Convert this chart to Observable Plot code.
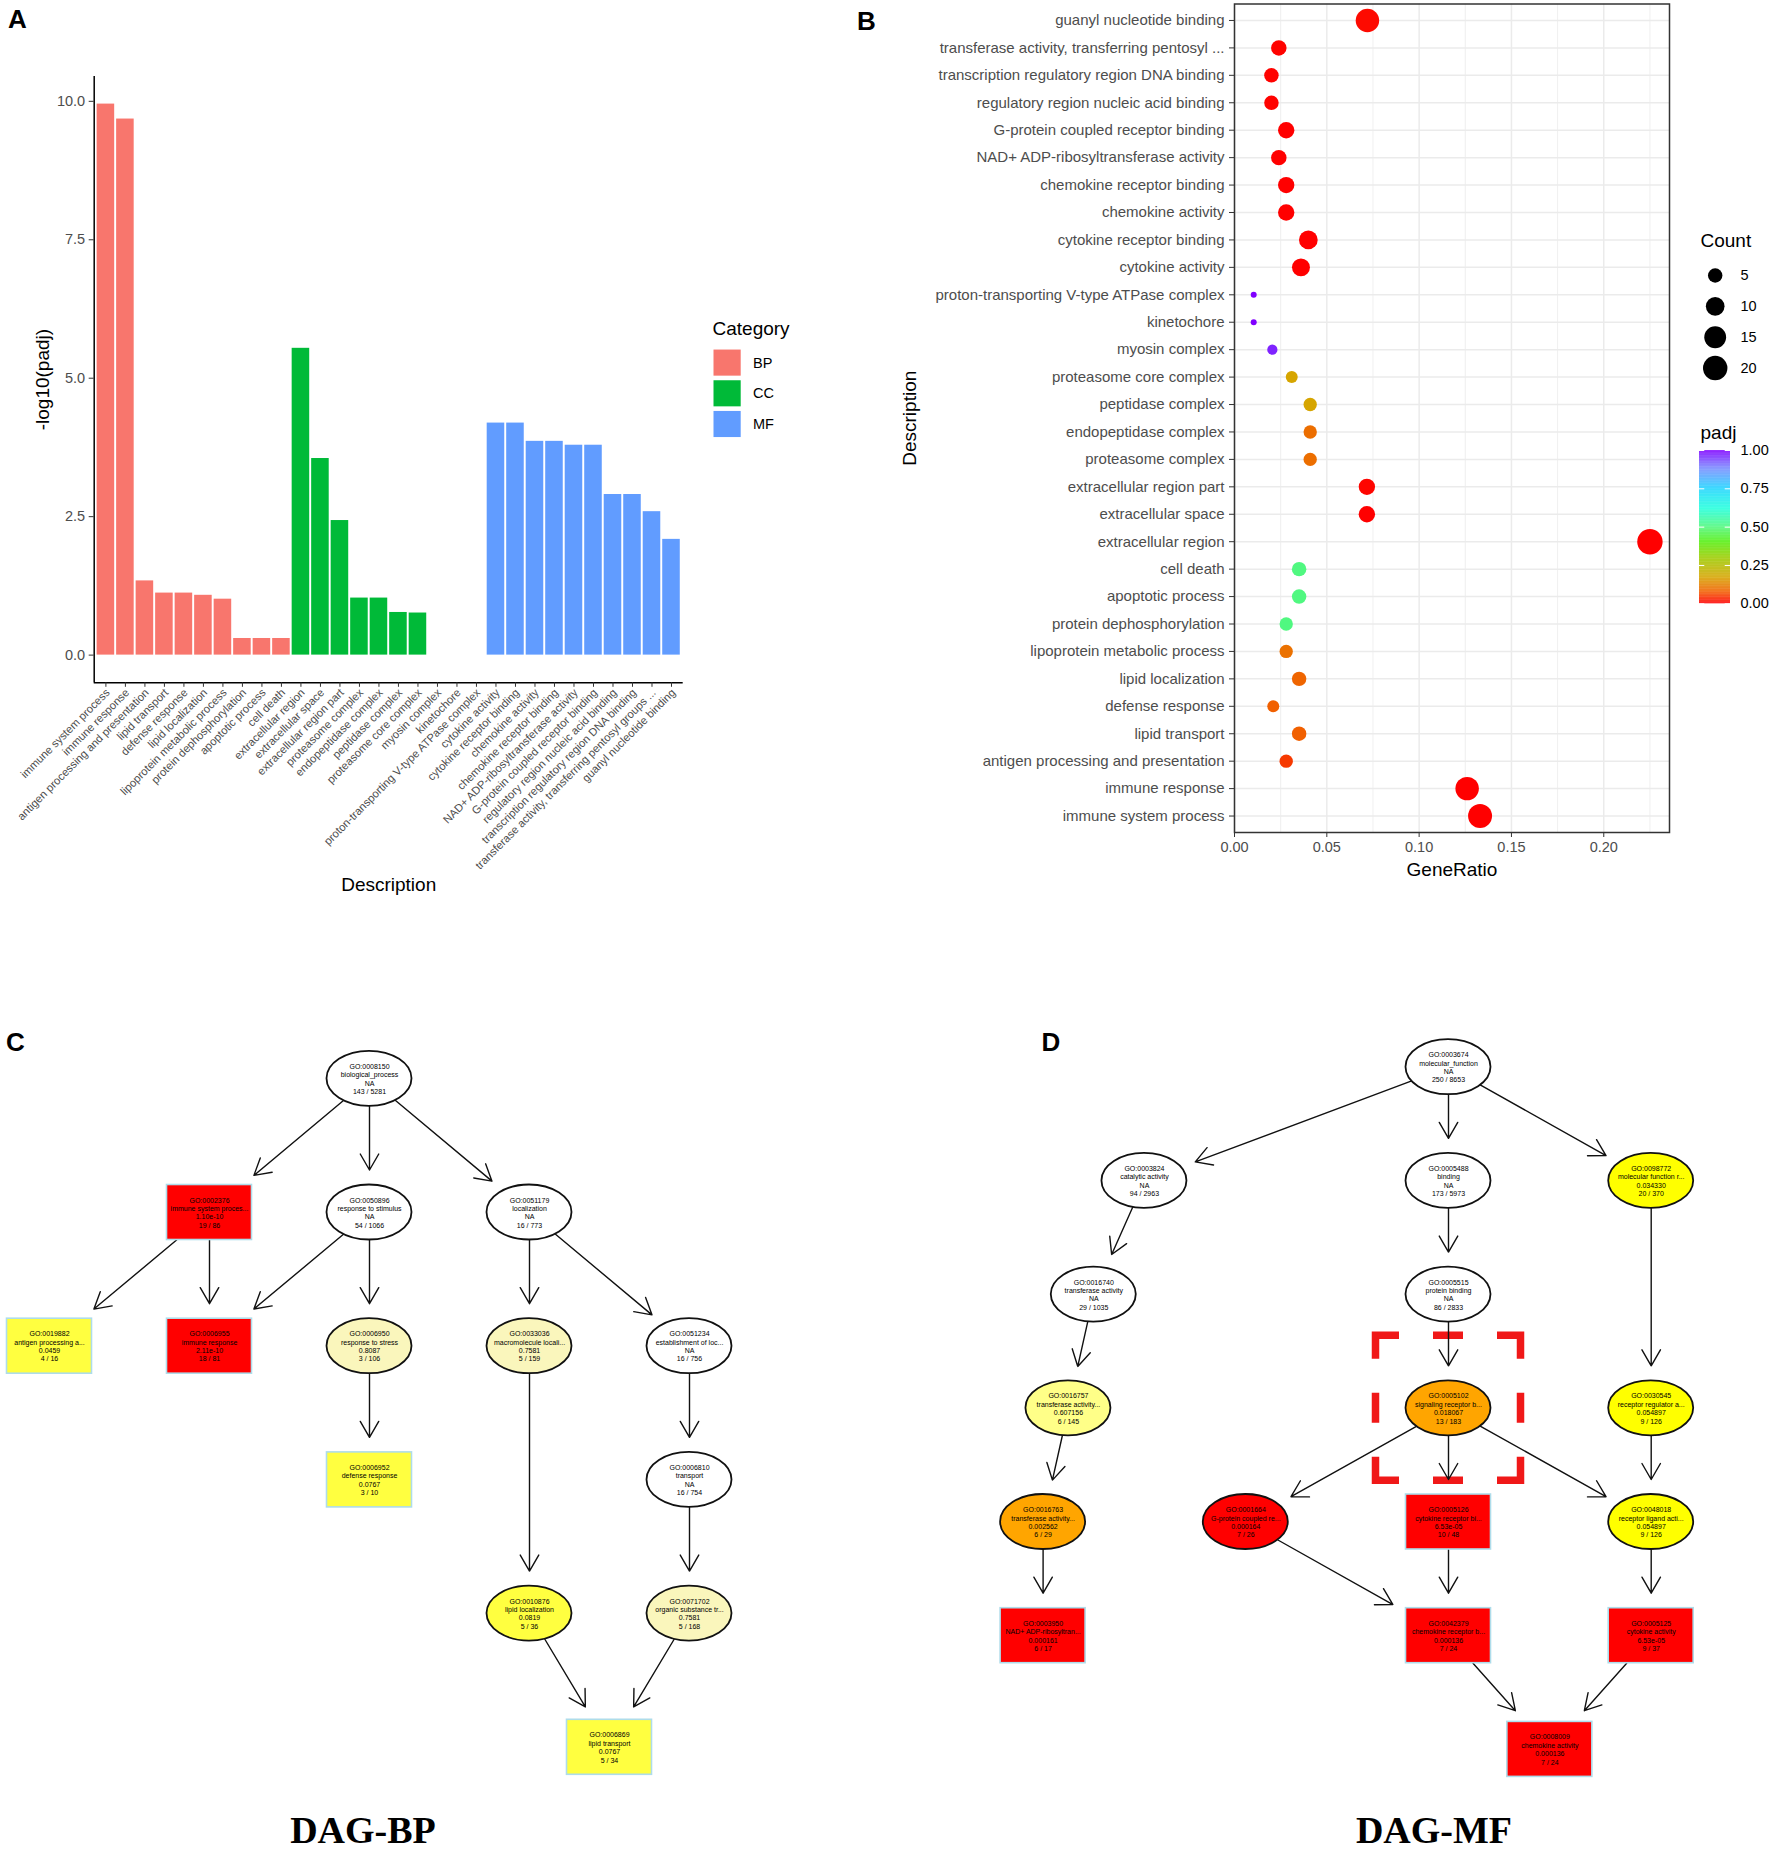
<!DOCTYPE html>
<html>
<head>
<meta charset="utf-8">
<script src="https://cdn.jsdelivr.net/npm/d3@7"></script>
<script src="https://cdn.jsdelivr.net/npm/@observablehq/plot@0.6"></script>
<style>
  html, body { margin: 0; padding: 0; background: #fff; }
  #fig { position: relative; width: 1772px; height: 1852px; overflow: hidden; background: #fff;
         font-family: "Liberation Sans", Arial, Helvetica, sans-serif; }
  .plab { position: absolute; font-weight: bold; font-size: 26px; line-height: 1; color: #000; }
  .dagt { position: absolute; width: 400px; text-align: center; line-height: 1;
          font-family: "Liberation Serif", "Times New Roman", serif; font-weight: bold; font-size: 38px; color: #000; }
</style>
</head>
<body>
<div id="fig"></div>
<script>
// ---------------- DATA ----------------
const categories = ["BP", "CC", "MF"];
const catColors = ["#F8766D", "#00BA38", "#619CFF"];

const bpTerms = ["immune system process", "immune response", "antigen processing and presentation",
  "lipid transport", "defense response", "lipid localization", "lipoprotein metabolic process",
  "protein dephosphorylation", "apoptotic process", "cell death"];
const ccTerms = ["extracellular region", "extracellular space", "extracellular region part",
  "proteasome complex", "endopeptidase complex", "peptidase complex", "proteasome core complex",
  "myosin complex", "kinetochore", "proton-transporting V-type ATPase complex"];
const mfTerms = ["cytokine activity", "cytokine receptor binding", "chemokine activity",
  "chemokine receptor binding", "NAD+ ADP-ribosyltransferase activity", "G-protein coupled receptor binding",
  "regulatory region nucleic acid binding", "transcription regulatory region DNA binding",
  "transferase activity, transferring pentosyl groups ...", "guanyl nucleotide binding"];
const mfDotLabels = ["cytokine activity", "cytokine receptor binding", "chemokine activity",
  "chemokine receptor binding", "NAD+ ADP-ribosyltransferase activity", "G-protein coupled receptor binding",
  "regulatory region nucleic acid binding", "transcription regulatory region DNA binding",
  "transferase activity, transferring pentosyl ...", "guanyl nucleotide binding"];

const bpNegLog10Padj = [9.95, 9.68, 1.34, 1.12, 1.12, 1.08, 1.01, 0.30, 0.30, 0.30];
const ccNegLog10Padj = [5.54, 3.55, 2.43, 1.03, 1.03, 0.77, 0.76, 0, 0, 0];
const mfNegLog10Padj = [4.19, 4.19, 3.86, 3.86, 3.79, 3.79, 2.90, 2.90, 2.59, 2.09];

const bpGeneRatio = [0.133, 0.126, 0.028, 0.035, 0.021, 0.035, 0.028, 0.028, 0.035, 0.035];
const ccGeneRatio = [0.225, 0.0717, 0.0717, 0.041, 0.041, 0.041, 0.031, 0.0205, 0.0104, 0.0104];
const mfGeneRatio = [0.036, 0.040, 0.028, 0.028, 0.024, 0.028, 0.020, 0.020, 0.024, 0.072];

const bpCount = [19, 18, 4, 5, 3, 5, 4, 4, 5, 5];
const ccCount = [22, 7, 7, 4, 4, 4, 3, 2, 1, 1];
const mfCount = [9, 10, 7, 7, 6, 7, 5, 5, 6, 18];

const bpPadj = [1.1e-10, 2.1e-10, 0.046, 0.077, 0.077, 0.082, 0.098, 0.50, 0.50, 0.50];
const ccPadj = [3e-6, 3e-4, 0.004, 0.094, 0.094, 0.17, 0.17, 0.97, 1, 1];
const mfPadj = [6.5e-5, 6.5e-5, 1.4e-4, 1.4e-4, 1.6e-4, 1.6e-4, 1.3e-3, 1.3e-3, 2.6e-3, 8.1e-3];

const yTicksA = [0, 2.5, 5, 7.5, 10];
const ratioMajorTicks = [0, 0.05, 0.10, 0.15, 0.20];
const ratioMinorTicks = [0.025, 0.075, 0.125, 0.175, 0.225];
const countLegend = [5, 10, 15, 20];
const padjTicks = [0, 0.25, 0.5, 0.75, 1];
const padjStops = [0, 0.08, 0.17, 0.30, 0.40, 0.50, 0.62, 0.75, 0.88, 1];
const padjColors = ["#FF0000", "#F06400", "#D6A500", "#9ACD00", "#55EE10", "#50F880", "#22FFDD", "#22D4FF", "#7A8CFF", "#8000FF"];

// DAG (GO graph) nodes: col/rank = graph layout order and level
const bpNodes = [
  {id: "GO:0008150", name: "biological_process", p: "NA", genes: "143 / 5281", top: false, tier: "0", col: 0, rank: 0},
  {id: "GO:0002376", name: "immune system proces...", p: "1.10e-10", genes: "19 / 86", top: true, tier: "4", col: -1, rank: 1},
  {id: "GO:0050896", name: "response to stimulus", p: "NA", genes: "54 / 1066", top: false, tier: "0", col: 0, rank: 1},
  {id: "GO:0051179", name: "localization", p: "NA", genes: "16 / 773", top: false, tier: "0", col: 1, rank: 1},
  {id: "GO:0019882", name: "antigen processing a...", p: "0.0459", genes: "4 / 16", top: true, tier: "2", col: -2, rank: 2},
  {id: "GO:0006955", name: "immune response", p: "2.11e-10", genes: "18 / 81", top: true, tier: "4", col: -1, rank: 2},
  {id: "GO:0006950", name: "response to stress", p: "0.8087", genes: "3 / 106", top: false, tier: "1", col: 0, rank: 2},
  {id: "GO:0033036", name: "macromolecule locali...", p: "0.7581", genes: "5 / 159", top: false, tier: "1", col: 1, rank: 2},
  {id: "GO:0051234", name: "establishment of loc...", p: "NA", genes: "16 / 756", top: false, tier: "0", col: 2, rank: 2},
  {id: "GO:0006952", name: "defense response", p: "0.0767", genes: "3 / 10", top: true, tier: "2", col: 0, rank: 3},
  {id: "GO:0006810", name: "transport", p: "NA", genes: "16 / 754", top: false, tier: "0", col: 2, rank: 3},
  {id: "GO:0010876", name: "lipid localization", p: "0.0819", genes: "5 / 36", top: false, tier: "2", col: 1, rank: 4},
  {id: "GO:0071702", name: "organic substance tr...", p: "0.7581", genes: "5 / 168", top: false, tier: "1", col: 2, rank: 4},
  {id: "GO:0006869", name: "lipid transport", p: "0.0767", genes: "5 / 34", top: true, tier: "2", col: 1.5, rank: 5}
];
const bpEdges = [
  ["GO:0008150", "GO:0002376"], ["GO:0008150", "GO:0050896"], ["GO:0008150", "GO:0051179"],
  ["GO:0002376", "GO:0019882"], ["GO:0002376", "GO:0006955"],
  ["GO:0050896", "GO:0006955"], ["GO:0050896", "GO:0006950"],
  ["GO:0006950", "GO:0006952"],
  ["GO:0051179", "GO:0033036"], ["GO:0051179", "GO:0051234"],
  ["GO:0033036", "GO:0010876"], ["GO:0051234", "GO:0006810"], ["GO:0006810", "GO:0071702"],
  ["GO:0010876", "GO:0006869"], ["GO:0071702", "GO:0006869"]
];
const bpTierDomain = ["0", "1", "2", "4"];
const bpTierColors = ["#FFFFFF", "#FAF6BC", "#FFFF40", "#FF0000"];

const mfNodes = [
  {id: "GO:0003674", name: "molecular_function", p: "NA", genes: "250 / 8653", top: false, tier: "0", col: 0, rank: 0},
  {id: "GO:0003824", name: "catalytic activity", p: "NA", genes: "94 / 2963", top: false, tier: "0", col: -1.5, rank: 1},
  {id: "GO:0005488", name: "binding", p: "NA", genes: "173 / 5973", top: false, tier: "0", col: 0, rank: 1},
  {id: "GO:0098772", name: "molecular function r...", p: "0.034330", genes: "20 / 370", top: false, tier: "2", col: 1, rank: 1},
  {id: "GO:0016740", name: "transferase activity", p: "NA", genes: "29 / 1035", top: false, tier: "0", col: -1.75, rank: 2},
  {id: "GO:0005515", name: "protein binding", p: "NA", genes: "86 / 2833", top: false, tier: "0", col: 0, rank: 2},
  {id: "GO:0016757", name: "transferase activity...", p: "0.607156", genes: "6 / 145", top: false, tier: "1", col: -1.875, rank: 3},
  {id: "GO:0005102", name: "signaling receptor b...", p: "0.018067", genes: "13 / 183", top: false, tier: "3", col: 0, rank: 3},
  {id: "GO:0030545", name: "receptor regulator a...", p: "0.054897", genes: "9 / 126", top: false, tier: "2", col: 1, rank: 3},
  {id: "GO:0016763", name: "transferase activity...", p: "0.002562", genes: "6 / 29", top: false, tier: "3", col: -2, rank: 4},
  {id: "GO:0001664", name: "G-protein coupled re...", p: "0.000164", genes: "7 / 26", top: false, tier: "4", col: -1, rank: 4},
  {id: "GO:0005126", name: "cytokine receptor bi...", p: "6.53e-05", genes: "10 / 48", top: true, tier: "4", col: 0, rank: 4},
  {id: "GO:0048018", name: "receptor ligand acti...", p: "0.054897", genes: "9 / 126", top: false, tier: "2", col: 1, rank: 4},
  {id: "GO:0003950", name: "NAD+ ADP-ribosyltran...", p: "0.000161", genes: "6 / 17", top: true, tier: "4", col: -2, rank: 5},
  {id: "GO:0042379", name: "chemokine receptor b...", p: "0.000136", genes: "7 / 24", top: true, tier: "4", col: 0, rank: 5},
  {id: "GO:0005125", name: "cytokine activity", p: "6.53e-05", genes: "9 / 37", top: true, tier: "4", col: 1, rank: 5},
  {id: "GO:0008009", name: "chemokine activity", p: "0.000136", genes: "7 / 24", top: true, tier: "4", col: 0.5, rank: 6}
];
const mfEdges = [
  ["GO:0003674", "GO:0003824"], ["GO:0003674", "GO:0005488"], ["GO:0003674", "GO:0098772"],
  ["GO:0003824", "GO:0016740"], ["GO:0005488", "GO:0005515"], ["GO:0098772", "GO:0030545"],
  ["GO:0016740", "GO:0016757"], ["GO:0005515", "GO:0005102"],
  ["GO:0016757", "GO:0016763"], ["GO:0005102", "GO:0001664"], ["GO:0005102", "GO:0005126"],
  ["GO:0005102", "GO:0048018"], ["GO:0030545", "GO:0048018"],
  ["GO:0016763", "GO:0003950"], ["GO:0001664", "GO:0042379"], ["GO:0005126", "GO:0042379"],
  ["GO:0048018", "GO:0005125"], ["GO:0042379", "GO:0008009"], ["GO:0005125", "GO:0008009"]
];
const mfTierDomain = ["0", "1", "2", "3", "4"];
const mfTierColors = ["#FFFFFF", "#FFFF88", "#FFFF00", "#FFA500", "#FF0000"];
const mfHighlight = ["GO:0005102"];

// ---------------- HELPERS ----------------
const FONT = '"Liberation Sans", Arial, Helvetica, sans-serif';
const fig = document.getElementById("fig");
function place(el, left, top) {
  el.style.position = "absolute";
  el.style.left = left + "px";
  el.style.top = top + "px";
  fig.appendChild(el);
}
function htmlText(txt, cls, left, top) {
  const d = document.createElement("div");
  d.className = cls; d.textContent = txt;
  d.style.left = left + "px"; d.style.top = top + "px";
  fig.appendChild(d);
}
const baseStyle = {fontFamily: FONT, background: "transparent", overflow: "visible", color: "#000"};
const sizeScale = {type: "sqrt", domain: [0, 21], range: [3, 12.7]};
const padjScale = {type: "linear", domain: padjStops, range: padjColors, interpolate: "rgb", clamp: true};
const title = (txt, opts) => Plot.text([txt], {text: d => d, fontSize: 19, fill: "#000",
  textAnchor: "middle", lineAnchor: "middle", ...opts});

// ---------------- PANEL A ----------------
const termsA = [...bpTerms, ...ccTerms, ...mfTerms];
const rowsA = [
  ...bpTerms.map((t, i) => ({term: t, category: "BP", value: bpNegLog10Padj[i]})),
  ...ccTerms.map((t, i) => ({term: t, category: "CC", value: ccNegLog10Padj[i]})),
  ...mfTerms.map((t, i) => ({term: t, category: "MF", value: mfNegLog10Padj[i]}))
];
const A = {left: 0, top: 0, width: 700, height: 900, x0: 93.7, x1: 682.7, y0: 75.9, y1: 682.3};
const stepA = (A.x1 - A.x0) / (termsA.length + 0.2);
const plotA = Plot.plot({
  width: A.width, height: A.height,
  marginLeft: A.x0, marginRight: A.width - A.x1, marginTop: A.y0, marginBottom: A.height - A.y1,
  style: baseStyle,
  x: {domain: termsA, paddingInner: 0.1, paddingOuter: 0.15, round: false, label: null},
  y: {domain: [-0.5, 10.45], label: null},
  color: {domain: categories, range: catColors},
  marks: [
    Plot.barY(rowsA, {x: "term", y: "value", fill: "category"}),
    Plot.ruleY([-0.5], {stroke: "#000", strokeWidth: 1.5}),
    Plot.ruleX(termsA.slice(0, 1), {dx: -0.6 * stepA, stroke: "#000", strokeWidth: 1.5}),
    Plot.axisY({ticks: yTicksA, tickFormat: d3.format(".1f"), tickSize: 5, tickPadding: 4,
      fontSize: 14.5, fill: "#4d4d4d", stroke: "#333", label: null}),
    Plot.axisX({tickSize: 4.5, tickPadding: 3, stroke: "#333", text: null, label: null}),
    Plot.axisX({tickRotate: -45, tickSize: 0, tickPadding: 8, dx: 2, fontSize: 11.2,
      fill: "#4d4d4d", label: null}),
    title("-log10(padj)", {frameAnchor: "left", rotate: -90, dx: 42 - A.x0}),
    title("Description", {frameAnchor: "bottom", dy: 884 - A.y1})
  ]
});
place(plotA, A.left, A.top);

// legend A
const LA = {left: 690, top: 315, width: 110, height: 140};
const legendA = Plot.plot({
  width: LA.width, height: LA.height, margin: 0, style: baseStyle,
  x: {domain: [0, 1], range: [713.5 - LA.left, 740.7 - LA.left], axis: null},
  y: {domain: categories, range: [362.6 - 13.05 - LA.top, 424 + 13.05 - LA.top], paddingInner: 0.15, paddingOuter: 0, round: false, axis: null},
  color: {domain: categories, range: catColors},
  marks: [
    Plot.barX(categories, {y: d => d, x1: 0, x2: 1, fill: d => d}),
    Plot.text(categories, {y: d => d, x: 1, dx: 11.8, text: d => d, textAnchor: "start", lineAnchor: "middle", fontSize: 14.5, fill: "#000"}),
    title("Category", {frameAnchor: "top-left", dx: 712 - LA.left, dy: 328.4 - LA.top, textAnchor: "start"})
  ]
});
place(legendA, LA.left, LA.top);

// ---------------- PANEL B ----------------
const termsB = [...bpTerms, ...ccTerms, ...mfDotLabels];
const rowsB = [
  ...bpTerms.map((t, i) => ({label: t, ratio: bpGeneRatio[i], count: bpCount[i], padj: bpPadj[i]})),
  ...ccTerms.map((t, i) => ({label: t, ratio: ccGeneRatio[i], count: ccCount[i], padj: ccPadj[i]})),
  ...mfDotLabels.map((t, i) => ({label: t, ratio: mfGeneRatio[i], count: mfCount[i], padj: mfPadj[i]}))
];
const B = {left: 860, top: 0, width: 912, height: 900, x0: 1234, x1: 1669, y0: 3.5, y1: 832};
const plotB = Plot.plot({
  width: B.width, height: B.height,
  marginLeft: B.x0 - B.left, marginRight: B.left + B.width - B.x1, marginTop: B.y0, marginBottom: B.height - B.y1,
  style: baseStyle,
  x: {domain: [0, 0.2356], label: null},
  y: {type: "point", domain: termsB.slice().reverse(), padding: 0.6, round: false, label: null},
  r: sizeScale,
  color: padjScale,
  marks: [
    Plot.ruleX(ratioMinorTicks, {stroke: "#ebebeb", strokeWidth: 0.8}),
    Plot.ruleX(ratioMajorTicks, {stroke: "#ebebeb", strokeWidth: 1.5}),
    Plot.ruleY(termsB, {stroke: "#ebebeb", strokeWidth: 1.5}),
    Plot.dot(rowsB, {x: "ratio", y: "label", r: d => d.count - 1, fill: "padj"}),
    Plot.frame({stroke: "#333", strokeWidth: 1.5}),
    Plot.axisY({tickSize: 5, tickPadding: 5, fontSize: 15, fill: "#4d4d4d", stroke: "#333", label: null}),
    Plot.axisX({ticks: ratioMajorTicks, tickFormat: d3.format(".2f"), tickSize: 5, tickPadding: 4,
      fontSize: 14.5, fill: "#4d4d4d", stroke: "#333", label: null}),
    title("GeneRatio", {frameAnchor: "bottom", dy: 869 - B.y1}),
    title("Description", {frameAnchor: "left", rotate: -90, dx: 909 - B.x0})
  ]
});
place(plotB, B.left, B.top);

// Count legend
const LC = {left: 1690, top: 220, width: 82, height: 170};
const legendCount = Plot.plot({
  width: LC.width, height: LC.height, margin: 0, style: baseStyle,
  x: {domain: [0, 1], range: [1714.7 - LC.left, 1740 - LC.left], axis: null},
  y: {type: "point", domain: countLegend, range: [275 - LC.top, 367.6 - LC.top], padding: 0, round: false, axis: null},
  r: sizeScale,
  marks: [
    Plot.dot(countLegend, {x: 0, y: d => d, r: d => d - 1, fill: "#000"}),
    Plot.text(countLegend, {x: 1, y: d => d, text: d => String(d), textAnchor: "start", lineAnchor: "middle", fontSize: 14.5, fill: "#000"}),
    title("Count", {frameAnchor: "top-left", dx: 1700 - LC.left, dy: 240 - LC.top, textAnchor: "start"})
  ]
});
place(legendCount, LC.left, LC.top);

// padj legend
const LP = {left: 1690, top: 420, width: 82, height: 200};
const padjRamp = d3.range(0, 1, 0.004);
const legendPadj = Plot.plot({
  width: LP.width, height: LP.height, margin: 0, style: baseStyle,
  x: {domain: [0, 1], range: [1699 - LP.left, 1730 - LP.left], axis: null},
  y: {domain: [0, 1], range: [603.3 - LP.top, 450 - LP.top], axis: null},
  color: padjScale,
  marks: [
    Plot.rect(padjRamp, {x1: 0, x2: 1, y1: d => d, y2: d => Math.min(1, d + 0.005), fill: d => d}),
    Plot.ruleY(padjTicks, {x1: 0, x2: 0.17, stroke: "#fff", strokeWidth: 1}),
    Plot.ruleY(padjTicks, {x1: 0.83, x2: 1, stroke: "#fff", strokeWidth: 1}),
    Plot.text(padjTicks, {x: 1, y: d => d, dx: 10, text: d => d3.format(".2f")(d), textAnchor: "start", lineAnchor: "middle", fontSize: 14.5, fill: "#000"}),
    title("padj", {frameAnchor: "top-left", dx: 1700 - LP.left, dy: 432 - LP.top, textAnchor: "start"})
  ]
});
place(legendPadj, LP.left, LP.top);

// ---------------- DAG PANELS ----------------
function makeDag(cfg) {
  const {nodes, edges, tierDomain, tierColors, width, height, x0, y0, colPx, rankPx, highlight = []} = cfg;
  const byId = new Map(nodes.map(d => [d.id, d]));
  const cmin = d3.min(nodes, d => d.col), cmax = d3.max(nodes, d => d.col);
  const rmax = d3.max(nodes, d => d.rank);
  const HW = 42.5, HH = 27.5, GAP = 15;
  const bound = (n, ux, uy) => n.top
    ? Math.min(Math.abs(ux) > 1e-9 ? HW / Math.abs(ux) : Infinity, Math.abs(uy) > 1e-9 ? HH / Math.abs(uy) : Infinity)
    : 1 / Math.hypot(ux / HW, uy / HH);
  const arrows = edges.map(([a, b]) => {
    const s = byId.get(a), t = byId.get(b);
    const dx = (t.col - s.col) * colPx, dy = (t.rank - s.rank) * rankPx, L = Math.hypot(dx, dy);
    const ux = dx / L, uy = dy / L;
    return Plot.arrow([{s, t}], {
      x1: d => d.s.col, y1: d => d.s.rank, x2: d => d.t.col, y2: d => d.t.rank,
      insetStart: bound(s, ux, uy), insetEnd: bound(t, ux, uy) + GAP,
      headLength: 19.8, headAngle: 60, stroke: "#111", strokeWidth: 1.4
    });
  });
  const nodeRect = {x1: "col", x2: "col", y1: "rank", y2: "rank",
    insetLeft: -HW, insetRight: -HW, insetTop: -HH, insetBottom: -HH, fill: "tier"};
  return Plot.plot({
    width, height,
    marginLeft: x0 + cmin * colPx, marginRight: width - (x0 + cmax * colPx),
    marginTop: y0, marginBottom: height - (y0 + rmax * rankPx),
    style: baseStyle,
    x: {domain: [cmin, cmax], axis: null},
    y: {domain: [0, rmax], reverse: true, axis: null},
    color: {type: "ordinal", domain: tierDomain, range: tierColors},
    marks: [
      Plot.rect(highlight.map(id => byId.get(id)), {x1: "col", x2: "col", y1: "rank", y2: "rank",
        insetLeft: -72.5, insetRight: -72.5, insetTop: -72.5, insetBottom: -72.5,
        fill: "none", stroke: "#F01818", strokeWidth: 7.5,
        strokeDasharray: "39.5 41.5 22.5 41.5", strokeDashoffset: 19.75, strokeLinecap: "square"}),
      ...arrows,
      Plot.rect(nodes.filter(d => !d.top), {...nodeRect, rx: 300, ry: 300, stroke: "#111", strokeWidth: 1.8}),
      Plot.rect(nodes.filter(d => d.top), {...nodeRect, stroke: "#AEDCEA", strokeWidth: 1.6}),
      Plot.text(nodes, {x: "col", y: "rank", text: d => [d.id, d.name, d.p, d.genes].join("\n"),
        fontSize: 7, lineHeight: 1.2, fill: "#000"})
    ]
  });
}

const plotC = makeDag({nodes: bpNodes, edges: bpEdges, tierDomain: bpTierDomain, tierColors: bpTierColors,
  width: 886, height: 800, x0: 369, y0: 78.3, colPx: 160, rankPx: 133.7});
place(plotC, 0, 1000);

const plotD = makeDag({nodes: mfNodes, edges: mfEdges, tierDomain: mfTierDomain, tierColors: mfTierColors,
  width: 886, height: 800, x0: 562, y0: 66.7, colPx: 202.7, rankPx: 113.7, highlight: mfHighlight});
place(plotD, 886, 1000);

// ---------------- LABELS ----------------
htmlText("A", "plab", 8, 6.2);
htmlText("B", "plab", 857, 7.5);
htmlText("C", "plab", 6, 1028.7);
htmlText("D", "plab", 1041.5, 1028.7);
htmlText("DAG-BP", "dagt", 363 - 200, 1811);
htmlText("DAG-MF", "dagt", 1434 - 200, 1811);
</script>
</body>
</html>
